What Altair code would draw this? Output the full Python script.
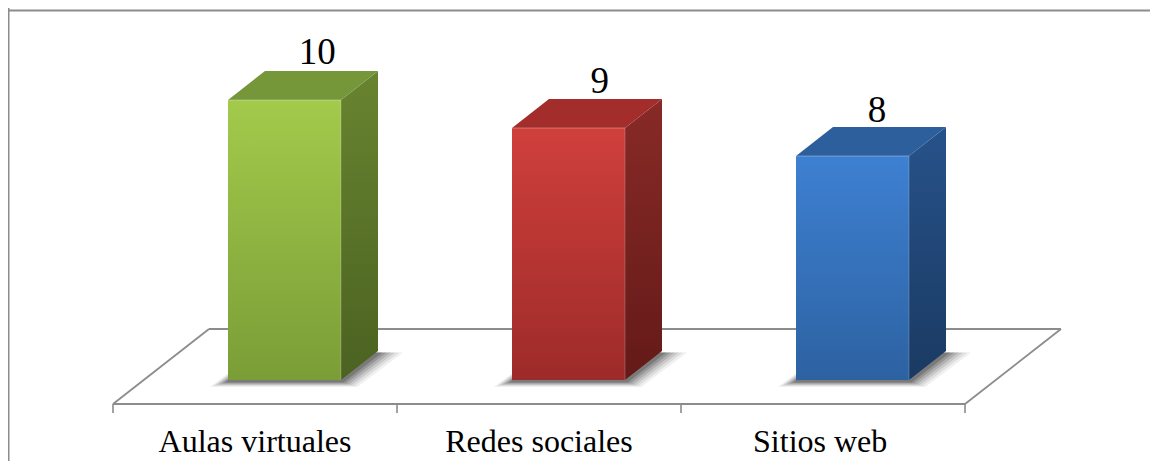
import altair as alt
import pandas as pd

categories = ["Aulas virtuales", "Redes sociales", "Sitios web"]
values = [10, 9, 8]
label_shift = [0.115, 0.11, 0.086]
label_gap = [36, 35, 34]
front_top = ["#a3ca4b", "#d03f3c", "#3e80d2"]
front_bottom = ["#7b9d37", "#9d2b29", "#2d62a2"]
top_face = ["#76963a", "#a32d2b", "#2c5f9c"]
side_top = ["#688430", "#882a27", "#27528a"]
side_bottom = ["#4b6221", "#641a18", "#1a3a62"]

W, H = 1142, 453
PX_X, PX_Y = 284.0, 28.0              # pixels per category / per value unit
X_MIN, X_MAX = (8 - 113) / PX_X, (8 + W - 113) / PX_X
Y_MAX, Y_MIN = (380 - 8) / PX_Y, (380 - 8 - H) / PX_Y
BAR_L, BAR_W = 115 / PX_X, 113 / PX_X
DX, DY = 37 / PX_X, 29 / PX_Y         # bar depth
FX, FY = 96 / PX_X, 75 / PX_Y         # floor depth
FLOOR = -24 / PX_Y
GRAY = "#8c8c8c"

xs = alt.Scale(domain=[X_MIN, X_MAX], nice=False, zero=False)
ys = alt.Scale(domain=[Y_MIN, Y_MAX], nice=False, zero=False)
X = alt.X("x:Q", scale=xs, axis=None)
Y = alt.Y("y:Q", scale=ys, axis=None)
Y2 = alt.Y2("y2:Q")


def grad(c0, c1):
    return alt.Gradient(
        gradient="linear", x1=0, y1=0, x2=0, y2=1,
        stops=[alt.GradientStop(color=c0, offset=0), alt.GradientStop(color=c1, offset=1)],
    )


def poly(rows, **mark):
    d = pd.DataFrame(rows, columns=["x", "y", "y2"])
    return alt.Chart(d).mark_area(interpolate="linear", **mark).encode(x=X, y=Y, y2=Y2)


def line(rows, width=1.8, color=GRAY, opacity=1):
    d = pd.DataFrame(rows, columns=["x", "y"])
    return alt.Chart(d).mark_line(color=color, strokeWidth=width, opacity=opacity).encode(x=X, y=Y)


n = len(categories)
layers = []

# frame
layers.append(line([(X_MIN, Y_MAX - 2.5 / PX_Y), (X_MAX, Y_MAX - 2.5 / PX_Y)], 1.8))
layers.append(line([(X_MIN, Y_MAX), (X_MIN, Y_MIN)], 3))

# floor
layers.append(line([(FX, FLOOR + FY), (n + FX, FLOOR + FY)]))
layers.append(line([(0, FLOOR), (n, FLOOR)]))
layers.append(line([(0, FLOOR), (FX, FLOOR + FY)]))
layers.append(line([(n, FLOOR), (n + FX, FLOOR + FY)]))
for t in range(n + 1):
    layers.append(line([(t, FLOOR), (t, FLOOR - 9 / PX_Y)], 1.6))

for i, v in enumerate(values):
    xl, xr = i + BAR_L, i + BAR_L + BAR_W
    # soft shadow: stacked, widening footprints
    for g, op in [(18, 0.08), (15, 0.1), (12, 0.13), (9, 0.17), (6, 0.22), (3, 0.3)]:
        gx, gy = g / PX_X, g * 0.3 / PX_Y
        a, b = xl - gx, xr + gx * 0.9
        low = -gy - 1.5 / PX_Y
        layers.append(poly([
            (a, low, low),
            (a + DX + gx * 0.5, low, low + DY + gy),
            (b, low, low + DY + gy),
            (b + DX + gx * 0.5, low + DY + gy, low + DY + gy),
        ], color="#3a3a3a", opacity=op))
    # side face
    layers.append(poly([(xr, 0, v), (xr + DX, DY, v + DY)], color=grad(side_top[i], side_bottom[i])))
    # top face
    layers.append(poly([
        (xl, v, v),
        (xl + DX, v, v + DY),
        (xr, v, v + DY),
        (xr + DX, v + DY, v + DY),
    ], color=top_face[i]))
    # front face
    layers.append(poly([(xl, 0, v), (xr, 0, v)], color=grad(front_top[i], front_bottom[i])))
    # bevel on the front edge
    layers.append(line([(xl, v), (xr, v)], 2, "#ffffff", 0.16))
    layers.append(line([(xr, 0), (xr, v)], 2, "#ffffff", 0.1))

FONT = "Liberation Serif"
lab = pd.DataFrame({"x": [0.5, 1.5, 2.49], "y": [FLOOR - 48 / PX_Y] * n, "t": categories})
layers.append(alt.Chart(lab).mark_text(font=FONT, fontSize=32, color="#000000", align="center", baseline="alphabetic").encode(x=X, y=Y, text="t:N"))
vals = pd.DataFrame({
    "x": [i + BAR_L + BAR_W / 2 + label_shift[i] for i in range(n)],
    "y": [v + label_gap[i] / PX_Y for i, v in enumerate(values)],
    "t": [str(v) for v in values],
})
layers.append(alt.Chart(vals).mark_text(font=FONT, fontSize=37, color="#000000", align="center", baseline="alphabetic").encode(x=X, y=Y, text="t:N"))

chart = alt.layer(*layers).properties(
    width=W, height=H, padding=0, background="#ffffff",
    autosize=alt.AutoSizeParams(type="none"),
).configure_view(stroke=None)
chart.save("out.html", embed_options={"renderer": "svg", "actions": False})
